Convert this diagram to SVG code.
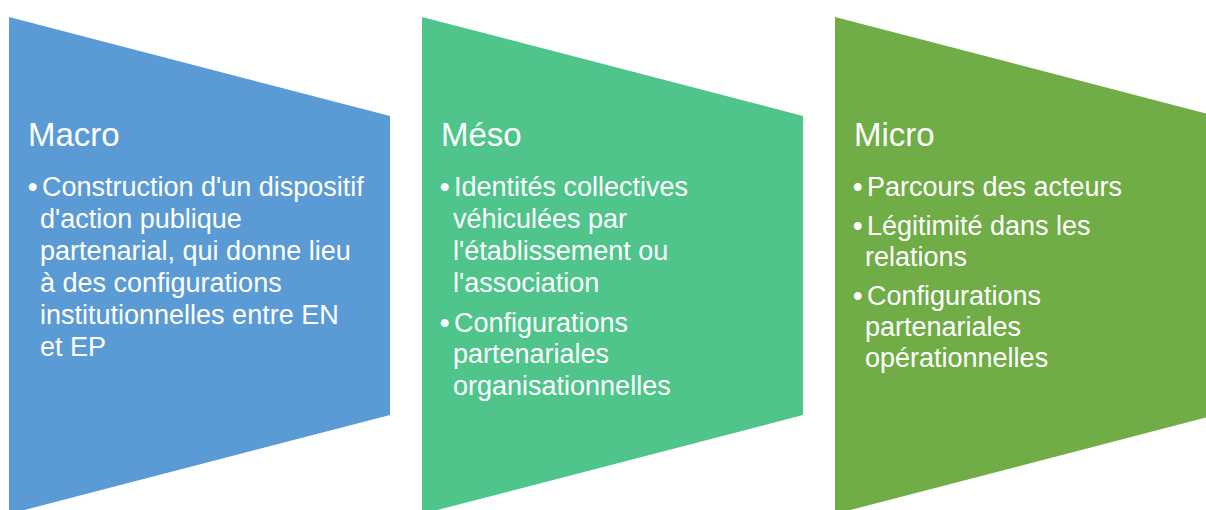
<svg xmlns="http://www.w3.org/2000/svg" width="1206" height="510" viewBox="0 0 1206 510">
<style>
.t{font-family:"Liberation Sans",Arial,sans-serif;fill:#ffffff}
.h{font-size:33px}
.b{font-size:27px}
.d{font-weight:bold}
</style>
<rect width="1206" height="510" fill="#ffffff"/>
<g id="macro">
<polygon points="9,17 390,116 390,415 9,514" fill="#5B9BD5"/>
<text class="t h" x="28" y="146">Macro</text>
<g class="t b">
<text class="d" x="28" y="196">•</text><text x="42" y="196">Construction d'un dispositif</text>
<text x="40" y="228">d'action publique</text>
<text x="40" y="260">partenarial, qui donne lieu</text>
<text x="40" y="292">à des configurations</text>
<text x="40" y="324">institutionnelles entre EN</text>
<text x="40" y="356">et EP</text>
</g>
</g>
<g id="meso">
<polygon points="422,17 803,116 803,415 422,514" fill="#4FC58C"/>
<text class="t h" x="441" y="146">Méso</text>
<g class="t b">
<text class="d" x="440" y="196">•</text><text x="454" y="196">Identités collectives</text>
<text x="453" y="228">véhiculées par</text>
<text x="453" y="260">l'établissement ou</text>
<text x="453" y="292">l'association</text>
<text class="d" x="440" y="332">•</text><text x="454" y="332">Configurations</text>
<text x="453" y="363">partenariales</text>
<text x="453" y="395">organisationnelles</text>
</g>
</g>
<g id="micro">
<polygon points="835,17 1216,116 1216,415 835,514" fill="#70AD47"/>
<text class="t h" x="854" y="146">Micro</text>
<g class="t b">
<text class="d" x="853" y="196">•</text><text x="867" y="196">Parcours des acteurs</text>
<text class="d" x="853" y="235">•</text><text x="867" y="235">Légitimité dans les</text>
<text x="865" y="266">relations</text>
<text class="d" x="853" y="305">•</text><text x="867" y="305">Configurations</text>
<text x="865" y="336">partenariales</text>
<text x="865" y="367">opérationnelles</text>
</g>
</g>
<g id="connectors"/>
</svg>
